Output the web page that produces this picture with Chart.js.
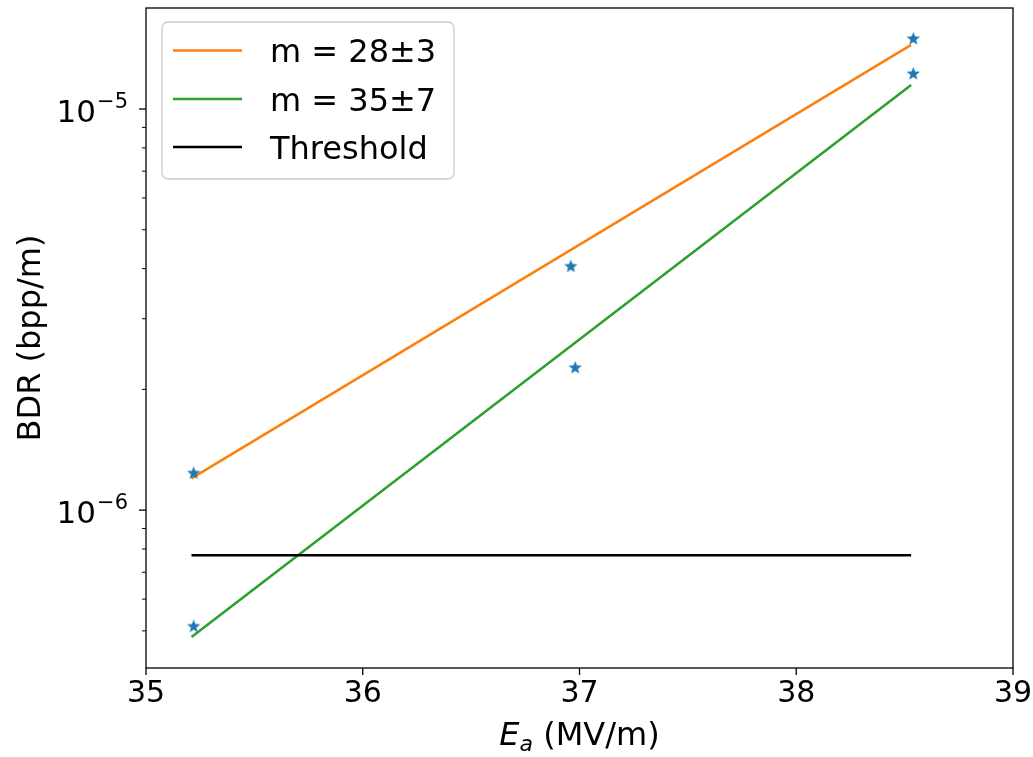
<!DOCTYPE html>
<html>
<head>
<meta charset="utf-8">
<script src="https://cdn.jsdelivr.net/npm/chart.js@4/dist/chart.umd.min.js"></script>
<style>
  html, body { margin: 0; padding: 0; background: #ffffff; }
  #wrap { width: 1033px; height: 757px; }
</style>
</head>
<body>
<div id="wrap"><canvas id="c" width="1033" height="757"></canvas></div>
<script>
// ---- data ----
const fitX = [35.21, 38.53];                 // E_a range of the fitted curves (MV/m)
const bdrM28 = [1.20e-6, 1.445e-5];          // m = 28±3 fit
const bdrM35 = [4.83e-7, 1.148e-5];          // m = 35±7 fit
const thresholdX = [35.21, 38.53];
const thresholdY = [7.72e-7, 7.72e-7];
const measX = [35.22, 35.22, 36.96, 36.98, 38.54, 38.54];
const measY = [1.239e-6, 5.14e-7, 4.06e-6, 2.27e-6, 1.50e-5, 1.227e-5];

const seriesLabels = ['m = 28±3', 'm = 35±7', 'Threshold'];
const xTicks = [35, 36, 37, 38, 39];
const xTickLabels = ['35', '36', '37', '38', '39'];
const yMajorTicks = [1e-6, 1e-5];
const yMajorExp = ['−6', '−5'];
const yMinorTicks = [5e-7, 6e-7, 7e-7, 8e-7, 9e-7, 2e-6, 3e-6, 4e-6, 5e-6, 6e-6, 7e-6, 8e-6, 9e-6];
const xRange = [35, 39];
const yRange = [4.04e-7, 1.786e-5];
const xTitle = ['E', 'a', ' (MV/m)'];
const yTitle = 'BDR (bpp/m)';

// ---- styles ----
const C_ORANGE = '#ff7f0e', C_GREEN = '#2ca02c', C_BLUE = '#1f77b4', C_BLACK = '#000000';
const FONT = '"DejaVu Sans", "Liberation Sans", sans-serif';

function toPts(xs, ys) { return xs.map((v, i) => ({ x: v, y: ys[i] })); }

// filled 5-point star marker (matplotlib '*')
function makeStar(size, color) {
  const cv = document.createElement('canvas');
  cv.width = size; cv.height = size;
  const g = cv.getContext('2d');
  const cx = size / 2, cy = size / 2 + 0.5, R = size / 2 - 0.5, r = R * 0.42;
  g.beginPath();
  for (let i = 0; i < 10; i++) {
    const ang = -Math.PI / 2 + i * Math.PI / 5;
    const rad = i % 2 === 0 ? R : r;
    const px = cx + rad * Math.cos(ang), py = cy + rad * Math.sin(ang);
    if (i === 0) g.moveTo(px, py); else g.lineTo(px, py);
  }
  g.closePath();
  g.fillStyle = color;
  g.fill();
  return cv;
}
const starImg = makeStar(15, C_BLUE);

const decor = {
  id: 'decor',
  afterDraw(chart) {
    const { ctx, chartArea: a, scales: { x, y } } = chart;
    ctx.save();
    ctx.fillStyle = '#000';
    ctx.strokeStyle = '#000';
    ctx.lineWidth = 1.3;
    // frame
    ctx.strokeRect(a.left, a.top, a.right - a.left, a.bottom - a.top);
    // x ticks + labels
    ctx.font = '30px ' + FONT;
    ctx.textAlign = 'center';
    ctx.textBaseline = 'alphabetic';
    xTicks.forEach((v, i) => {
      const px = x.getPixelForValue(v);
      ctx.beginPath(); ctx.moveTo(px, a.bottom); ctx.lineTo(px, a.bottom + 7); ctx.stroke();
      ctx.fillText(xTickLabels[i], px, a.bottom + 34);
    });
    // y ticks
    yMajorTicks.forEach((v, i) => {
      const py = y.getPixelForValue(v);
      ctx.beginPath(); ctx.moveTo(a.left - 7, py); ctx.lineTo(a.left, py); ctx.stroke();
      ctx.textAlign = 'right';
      ctx.font = '21px ' + FONT;
      const ex = a.left - 18;
      ctx.fillText(yMajorExp[i], ex, py - 1);
      const ew = ctx.measureText(yMajorExp[i]).width;
      ctx.font = '31px ' + FONT;
      ctx.fillText('10', ex - ew - 1, py + 13);
    });
    ctx.lineWidth = 1;
    yMinorTicks.forEach(v => {
      const py = y.getPixelForValue(v);
      ctx.beginPath(); ctx.moveTo(a.left - 4, py); ctx.lineTo(a.left, py); ctx.stroke();
    });
    // x title: italic E, subscript a, (MV/m)
    const f1 = 'italic 32px ' + FONT, f2 = 'italic 22px ' + FONT, f3 = '32px ' + FONT;
    ctx.font = f1; const w1 = ctx.measureText(xTitle[0]).width;
    ctx.font = f2; const w2 = ctx.measureText(xTitle[1]).width;
    ctx.font = f3; const w3 = ctx.measureText(xTitle[2]).width;
    let sx = (a.left + a.right) / 2 - (w1 + w2 + w3) / 2;
    const by = 745;
    ctx.textAlign = 'left';
    ctx.font = f1; ctx.fillText(xTitle[0], sx, by); sx += w1;
    ctx.font = f2; ctx.fillText(xTitle[1], sx, by + 6); sx += w2;
    ctx.font = f3; ctx.fillText(xTitle[2], sx, by);
    // y title
    ctx.save();
    ctx.translate(40, (a.top + a.bottom) / 2);
    ctx.rotate(-Math.PI / 2);
    ctx.textAlign = 'center';
    ctx.font = '32px ' + FONT;
    ctx.fillText(yTitle, 0, 0);
    ctx.restore();
    // legend
    const lx = 162, ly = 22, lw = 292, lh = 157;
    ctx.beginPath();
    ctx.roundRect(lx, ly, lw, lh, 6);
    ctx.fillStyle = 'rgba(255,255,255,0.8)';
    ctx.fill();
    ctx.strokeStyle = '#cccccc';
    ctx.lineWidth = 1.3;
    ctx.stroke();
    const rows = [50.5, 99, 147];
    chart.data.datasets.slice(0, 3).forEach((ds, i) => {
      ctx.strokeStyle = ds.borderColor;
      ctx.lineWidth = 2.5;
      ctx.beginPath(); ctx.moveTo(173, rows[i]); ctx.lineTo(242, rows[i]); ctx.stroke();
      ctx.fillStyle = '#000';
      ctx.font = '32px ' + FONT;
      ctx.textAlign = 'left';
      ctx.fillText(ds.label, 270, rows[i] + 11.5);
    });
    ctx.restore();
  }
};

new Chart(document.getElementById('c'), {
  type: 'scatter',
  data: {
    datasets: [
      { label: seriesLabels[0], data: toPts(fitX, bdrM28), showLine: true, borderColor: C_ORANGE, backgroundColor: C_ORANGE, borderWidth: 2.5, pointRadius: 0, order: 3 },
      { label: seriesLabels[1], data: toPts(fitX, bdrM35), showLine: true, borderColor: C_GREEN, backgroundColor: C_GREEN, borderWidth: 2.5, pointRadius: 0, order: 2 },
      { label: seriesLabels[2], data: toPts(thresholdX, thresholdY), showLine: true, borderColor: C_BLACK, backgroundColor: C_BLACK, borderWidth: 2.5, pointRadius: 0, order: 1 },
      { label: 'measured', data: toPts(measX, measY), showLine: false, pointStyle: starImg, pointRadius: 7, order: 0 }
    ]
  },
  options: {
    responsive: false,
    animation: false,
    devicePixelRatio: 1,
    layout: { padding: { top: 8, right: 20, left: 0, bottom: 0 } },
    plugins: { legend: { display: false }, tooltip: { enabled: false } },
    scales: {
      x: {
        type: 'linear', min: xRange[0], max: xRange[1],
        grid: { display: false }, border: { display: false },
        ticks: { display: false },
        afterFit(s) { s.height = 89; }
      },
      y: {
        type: 'logarithmic', min: yRange[0], max: yRange[1],
        grid: { display: false }, border: { display: false },
        ticks: { display: false },
        afterFit(s) { s.width = 146; }
      }
    }
  },
  plugins: [decor]
});
</script>
</body>
</html>
